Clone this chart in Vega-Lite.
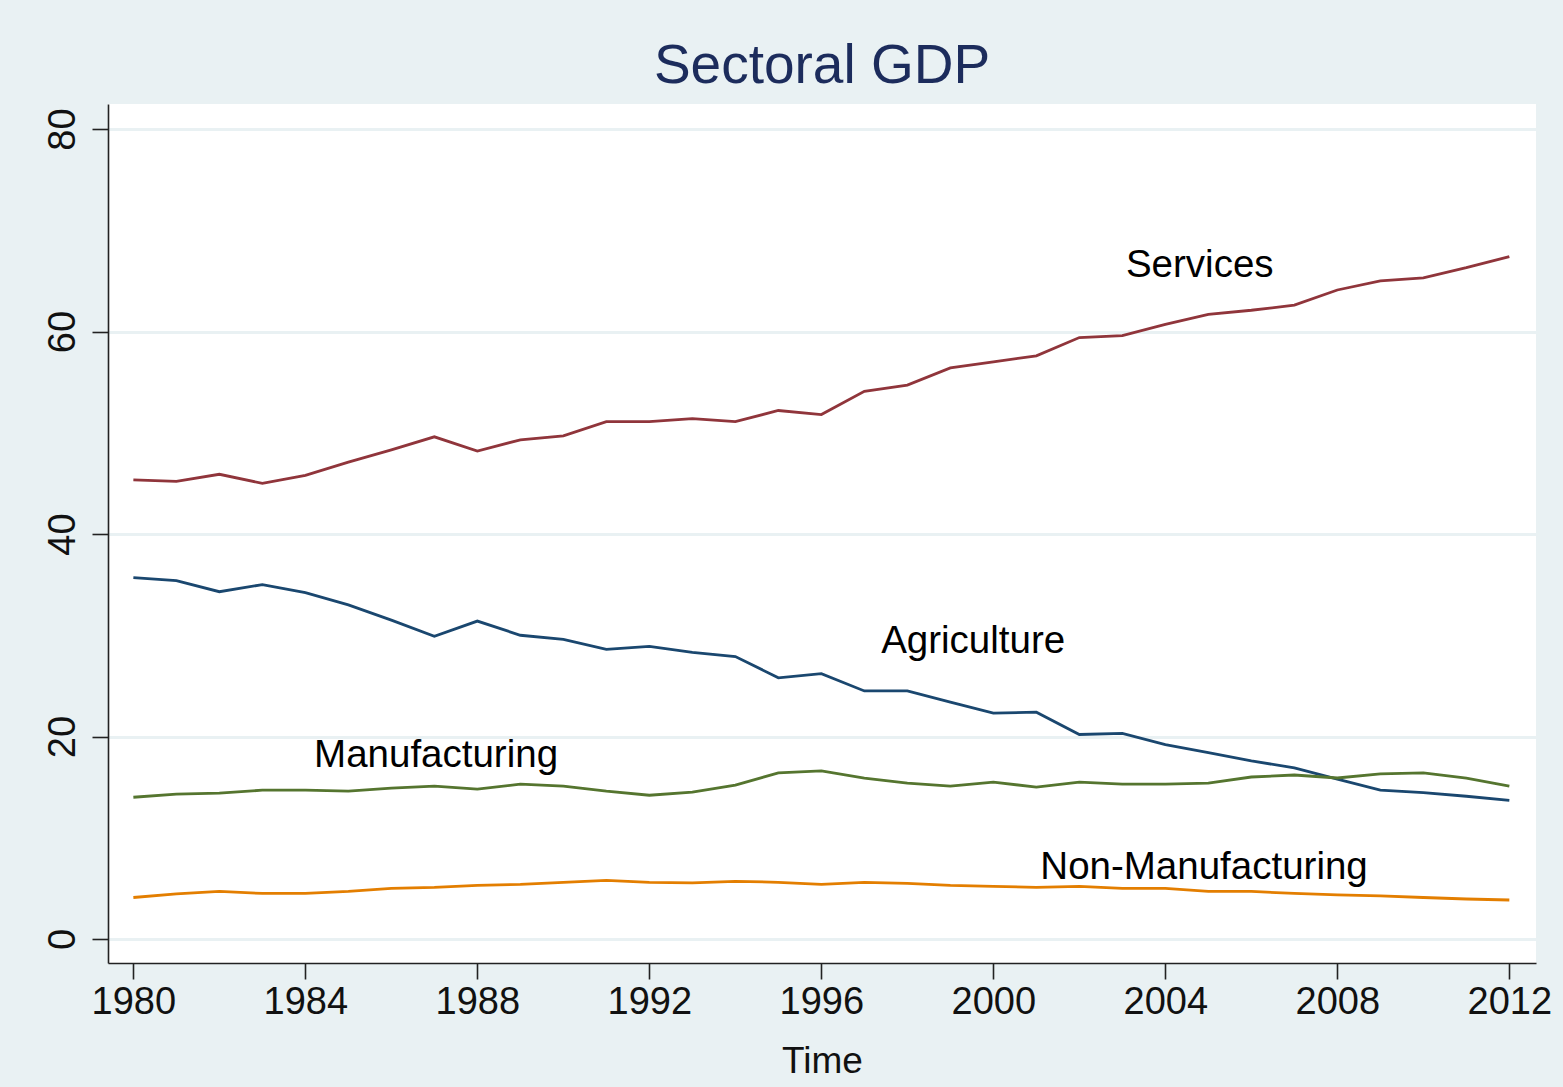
{
  "$schema": "https://vega.github.io/schema/vega-lite/v6.json",
  "autosize": "none",
  "width": 1428,
  "height": 859,
  "padding": {"left": 108, "top": 104, "right": 27, "bottom": 124},
  "background": "#E9F1F3",
  "config": {
    "view": {"fill": "white", "stroke": null},
    "font": "Liberation Sans"
  },
  "title": {
    "text": "Sectoral GDP",
    "fontSize": 55,
    "fontWeight": "normal",
    "color": "#1C2C5C",
    "font": "Liberation Sans",
    "anchor": "middle",
    "baseline": "alphabetic",
    "offset": -34
  },
  "datasets": {
    "lines": [
      {"year":1980,"sector":"Agriculture","value":35.7},{"year":1981,"sector":"Agriculture","value":35.4},{"year":1982,"sector":"Agriculture","value":34.3},{"year":1983,"sector":"Agriculture","value":35.0},{"year":1984,"sector":"Agriculture","value":34.2},{"year":1985,"sector":"Agriculture","value":33.0},{"year":1986,"sector":"Agriculture","value":31.5},{"year":1987,"sector":"Agriculture","value":29.9},{"year":1988,"sector":"Agriculture","value":31.4},{"year":1989,"sector":"Agriculture","value":30.0},{"year":1990,"sector":"Agriculture","value":29.6},{"year":1991,"sector":"Agriculture","value":28.6},{"year":1992,"sector":"Agriculture","value":28.9},{"year":1993,"sector":"Agriculture","value":28.3},{"year":1994,"sector":"Agriculture","value":27.9},{"year":1995,"sector":"Agriculture","value":25.8},{"year":1996,"sector":"Agriculture","value":26.2},{"year":1997,"sector":"Agriculture","value":24.5},{"year":1998,"sector":"Agriculture","value":24.5},{"year":1999,"sector":"Agriculture","value":23.4},{"year":2000,"sector":"Agriculture","value":22.3},{"year":2001,"sector":"Agriculture","value":22.4},{"year":2002,"sector":"Agriculture","value":20.2},{"year":2003,"sector":"Agriculture","value":20.3},{"year":2004,"sector":"Agriculture","value":19.2},{"year":2005,"sector":"Agriculture","value":18.4},{"year":2006,"sector":"Agriculture","value":17.6},{"year":2007,"sector":"Agriculture","value":16.9},{"year":2008,"sector":"Agriculture","value":15.8},{"year":2009,"sector":"Agriculture","value":14.7},{"year":2010,"sector":"Agriculture","value":14.45},{"year":2011,"sector":"Agriculture","value":14.1},{"year":2012,"sector":"Agriculture","value":13.7},
      {"year":1980,"sector":"Services","value":45.35},{"year":1981,"sector":"Services","value":45.2},{"year":1982,"sector":"Services","value":45.9},{"year":1983,"sector":"Services","value":45.0},{"year":1984,"sector":"Services","value":45.8},{"year":1985,"sector":"Services","value":47.1},{"year":1986,"sector":"Services","value":48.3},{"year":1987,"sector":"Services","value":49.6},{"year":1988,"sector":"Services","value":48.2},{"year":1989,"sector":"Services","value":49.3},{"year":1990,"sector":"Services","value":49.7},{"year":1991,"sector":"Services","value":51.1},{"year":1992,"sector":"Services","value":51.1},{"year":1993,"sector":"Services","value":51.4},{"year":1994,"sector":"Services","value":51.1},{"year":1995,"sector":"Services","value":52.2},{"year":1996,"sector":"Services","value":51.8},{"year":1997,"sector":"Services","value":54.1},{"year":1998,"sector":"Services","value":54.7},{"year":1999,"sector":"Services","value":56.4},{"year":2000,"sector":"Services","value":57.0},{"year":2001,"sector":"Services","value":57.6},{"year":2002,"sector":"Services","value":59.4},{"year":2003,"sector":"Services","value":59.6},{"year":2004,"sector":"Services","value":60.7},{"year":2005,"sector":"Services","value":61.7},{"year":2006,"sector":"Services","value":62.1},{"year":2007,"sector":"Services","value":62.6},{"year":2008,"sector":"Services","value":64.1},{"year":2009,"sector":"Services","value":65.0},{"year":2010,"sector":"Services","value":65.3},{"year":2011,"sector":"Services","value":66.3},{"year":2012,"sector":"Services","value":67.4},
      {"year":1980,"sector":"Manufacturing","value":14.0},{"year":1981,"sector":"Manufacturing","value":14.3},{"year":1982,"sector":"Manufacturing","value":14.4},{"year":1983,"sector":"Manufacturing","value":14.7},{"year":1984,"sector":"Manufacturing","value":14.7},{"year":1985,"sector":"Manufacturing","value":14.6},{"year":1986,"sector":"Manufacturing","value":14.9},{"year":1987,"sector":"Manufacturing","value":15.1},{"year":1988,"sector":"Manufacturing","value":14.8},{"year":1989,"sector":"Manufacturing","value":15.3},{"year":1990,"sector":"Manufacturing","value":15.1},{"year":1991,"sector":"Manufacturing","value":14.6},{"year":1992,"sector":"Manufacturing","value":14.2},{"year":1993,"sector":"Manufacturing","value":14.5},{"year":1994,"sector":"Manufacturing","value":15.2},{"year":1995,"sector":"Manufacturing","value":16.4},{"year":1996,"sector":"Manufacturing","value":16.6},{"year":1997,"sector":"Manufacturing","value":15.9},{"year":1998,"sector":"Manufacturing","value":15.4},{"year":1999,"sector":"Manufacturing","value":15.1},{"year":2000,"sector":"Manufacturing","value":15.5},{"year":2001,"sector":"Manufacturing","value":15.0},{"year":2002,"sector":"Manufacturing","value":15.5},{"year":2003,"sector":"Manufacturing","value":15.3},{"year":2004,"sector":"Manufacturing","value":15.3},{"year":2005,"sector":"Manufacturing","value":15.4},{"year":2006,"sector":"Manufacturing","value":16.0},{"year":2007,"sector":"Manufacturing","value":16.2},{"year":2008,"sector":"Manufacturing","value":15.9},{"year":2009,"sector":"Manufacturing","value":16.3},{"year":2010,"sector":"Manufacturing","value":16.4},{"year":2011,"sector":"Manufacturing","value":15.9},{"year":2012,"sector":"Manufacturing","value":15.1},
      {"year":1980,"sector":"Non-Manufacturing","value":4.1},{"year":1981,"sector":"Non-Manufacturing","value":4.45},{"year":1982,"sector":"Non-Manufacturing","value":4.7},{"year":1983,"sector":"Non-Manufacturing","value":4.5},{"year":1984,"sector":"Non-Manufacturing","value":4.5},{"year":1985,"sector":"Non-Manufacturing","value":4.7},{"year":1986,"sector":"Non-Manufacturing","value":5.0},{"year":1987,"sector":"Non-Manufacturing","value":5.1},{"year":1988,"sector":"Non-Manufacturing","value":5.3},{"year":1989,"sector":"Non-Manufacturing","value":5.4},{"year":1990,"sector":"Non-Manufacturing","value":5.6},{"year":1991,"sector":"Non-Manufacturing","value":5.8},{"year":1992,"sector":"Non-Manufacturing","value":5.6},{"year":1993,"sector":"Non-Manufacturing","value":5.55},{"year":1994,"sector":"Non-Manufacturing","value":5.7},{"year":1995,"sector":"Non-Manufacturing","value":5.6},{"year":1996,"sector":"Non-Manufacturing","value":5.4},{"year":1997,"sector":"Non-Manufacturing","value":5.6},{"year":1998,"sector":"Non-Manufacturing","value":5.5},{"year":1999,"sector":"Non-Manufacturing","value":5.3},{"year":2000,"sector":"Non-Manufacturing","value":5.2},{"year":2001,"sector":"Non-Manufacturing","value":5.1},{"year":2002,"sector":"Non-Manufacturing","value":5.2},{"year":2003,"sector":"Non-Manufacturing","value":5.0},{"year":2004,"sector":"Non-Manufacturing","value":5.0},{"year":2005,"sector":"Non-Manufacturing","value":4.7},{"year":2006,"sector":"Non-Manufacturing","value":4.7},{"year":2007,"sector":"Non-Manufacturing","value":4.5},{"year":2008,"sector":"Non-Manufacturing","value":4.35},{"year":2009,"sector":"Non-Manufacturing","value":4.25},{"year":2010,"sector":"Non-Manufacturing","value":4.1},{"year":2011,"sector":"Non-Manufacturing","value":3.95},{"year":2012,"sector":"Non-Manufacturing","value":3.85}
    ],
    "labels": [
      {"year":2004.8,"value":65.35,"label":"Services"},
      {"year":1999.53,"value":28.22,"label":"Agriculture"},
      {"year":1987.04,"value":17.02,"label":"Manufacturing"},
      {"year":2004.9,"value":5.9,"label":"Non-Manufacturing"}
    ]
  },
  "encoding": {
    "x": {
      "field": "year",
      "type": "quantitative",
      "scale": {"domain": [1979.41, 2012.62], "nice": false, "zero": false},
      "axis": {
        "title": "Time",
        "values": [1980,1984,1988,1992,1996,2000,2004,2008,2012],
        "format": "d",
        "grid": false,
        "domainColor": "#222222",
        "domainWidth": 1.6,
        "tickColor": "#222222",
        "tickWidth": 1.6,
        "tickSize": 16,
        "labelFontSize": 38,
        "labelFont": "Liberation Sans",
        "labelColor": "#111111",
        "labelBaseline": "alphabetic",
        "labelPadding": 34,
        "labelFlush": false,
        "labelOverlap": false,
        "titleFontSize": 37,
        "titleFont": "Liberation Sans",
        "titleFontWeight": "normal",
        "titleColor": "#111111",
        "titleBaseline": "alphabetic",
        "titleY": 109
      }
    },
    "y": {
      "field": "value",
      "type": "quantitative",
      "scale": {"domain": [-2.37, 82.47], "nice": false, "zero": false},
      "axis": {
        "title": null,
        "values": [0,20,40,60,80],
        "grid": true,
        "gridColor": "#E9F1F3",
        "gridWidth": 3,
        "domainColor": "#222222",
        "domainWidth": 1.6,
        "tickColor": "#222222",
        "tickWidth": 1.6,
        "tickSize": 16,
        "labelFontSize": 38,
        "labelFont": "Liberation Sans",
        "labelColor": "#111111",
        "labelAngle": 270,
        "labelAlign": "center",
        "labelBaseline": "alphabetic",
        "labelPadding": 18,
        "labelOverlap": false
      }
    }
  },
  "layer": [
    {
      "data": {"name": "lines"},
      "mark": {"type": "line", "strokeWidth": 2.8},
      "encoding": {
        "color": {
          "field": "sector",
          "type": "nominal",
          "scale": {
            "domain": ["Agriculture","Services","Manufacturing","Non-Manufacturing"],
            "range": ["#1a476f","#90353b","#55752f","#e37e00"]
          },
          "legend": null
        }
      }
    },
    {
      "data": {"name": "labels"},
      "mark": {"type": "text", "fontSize": 38.5, "font": "Liberation Sans", "color": "#000000", "align": "center", "baseline": "alphabetic"},
      "encoding": {
        "text": {"field": "label"}
      }
    }
  ]
}
